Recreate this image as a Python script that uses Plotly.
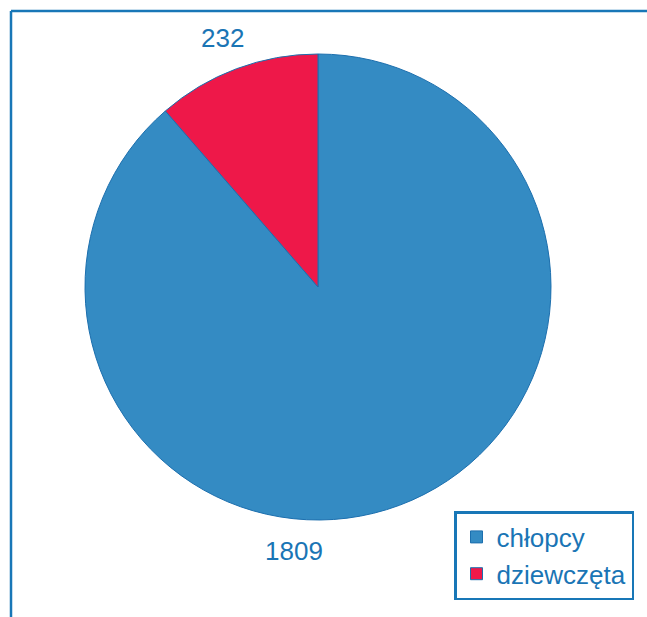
import plotly.graph_objects as go

labels = ["chłopcy", "dziewczęta"]
values = [1809, 232]
colors = ["#348BC3", "#EE1849"]

W, H = 647, 617
fig = go.Figure()
fig.add_trace(go.Pie(
    labels=labels, values=values, sort=False, direction="clockwise", rotation=0,
    marker=dict(colors=colors, line=dict(color="#1C6FAE", width=1)),
    textinfo="none", hoverinfo="label+value",
    domain=dict(x=[85 / W, 551 / W], y=[1 - 520 / H, 1 - 54 / H]),
))
txt = "#1A75B5"
fnt = dict(size=26, color=txt, family="Arial, Liberation Sans")
fig.add_annotation(x=222 / W, y=1 - 38 / H, xref="paper", yref="paper", text=str(values[1]),
                   xanchor="center", yanchor="middle", showarrow=False, font=fnt)
fig.add_annotation(x=294 / W, y=1 - 551 / H, xref="paper", yref="paper", text=str(values[0]),
                   xanchor="center", yanchor="middle", showarrow=False, font=fnt)
line = dict(color="#1877B7", width=2.5)
fig.add_shape(type="line", xref="paper", yref="paper", x0=11 / W, x1=1, y0=1 - 11 / H, y1=1 - 11 / H, line=line)
fig.add_shape(type="line", xref="paper", yref="paper", x0=11 / W, x1=11 / W, y0=1 - 11 / H, y1=0, line=line)
fig.update_layout(
    width=W, height=H, margin=dict(l=0, r=0, t=0, b=0),
    paper_bgcolor="white", plot_bgcolor="white",
    font=dict(family="Arial, Liberation Sans", color=txt),
    legend=dict(x=634 / W, xanchor="right", y=1 - 511 / H, yanchor="top",
                bordercolor="#1877B7", borderwidth=2.5, bgcolor="white",
                font=dict(size=26, color=txt), itemwidth=30),
    showlegend=True,
)
fig.write_html("out.html")
